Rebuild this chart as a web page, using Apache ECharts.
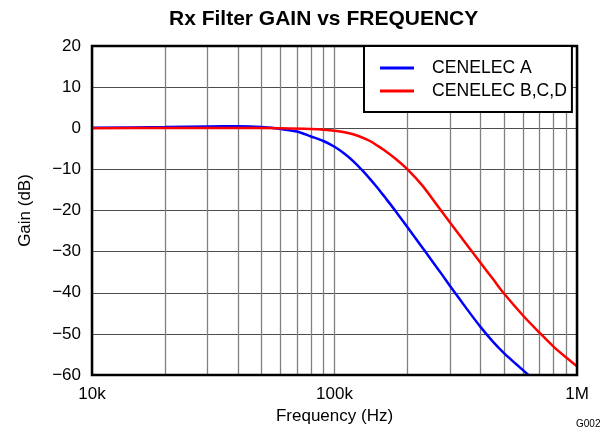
<!DOCTYPE html>
<html>
<head>
<meta charset="utf-8">
<script src="https://cdn.jsdelivr.net/npm/echarts@6/dist/echarts.min.js"></script>
<style>html,body{margin:0;padding:0;background:#fff;}#c{width:609px;height:432px;}</style>
</head>
<body>
<div id="c"></div>
<script>
// ---- data ----
const freqA = [10000, 20000, 30000, 40000, 45000, 50000, 55000, 60000, 70000, 80000, 90000, 100000, 110000, 120000, 130000, 140000, 150000, 160000, 180000, 200000, 225000, 250000, 280000, 300000, 350000, 400000, 450000, 500000, 565000, 630000];
const gainA = [0.1, 0.3, 0.45, 0.5, 0.45, 0.3, 0.1, -0.2, -0.8, -2.0, -3.1, -4.5, -6.2, -8.1, -10.2, -12.3, -14.4, -16.5, -20.4, -24.1, -28.2, -31.9, -35.9, -38.4, -43.8, -48.3, -51.9, -54.7, -57.5, -60];
const freqB = [10000, 20000, 40000, 60000, 80000, 100000, 115000, 127000, 140000, 150000, 160000, 180000, 200000, 230000, 264000, 300000, 350000, 400000, 452000, 500000, 600000, 700000, 800000, 900000, 1000000];
const gainB = [0.0, 0.05, 0.05, 0.0, -0.2, -0.6, -1.2, -2.0, -3.1, -4.2, -5.3, -7.6, -10.0, -13.9, -18.6, -23.0, -28.2, -32.7, -36.8, -40.2, -45.6, -49.7, -53.1, -55.7, -57.9];
const seriesNames = ['CENELEC A', 'CENELEC B,C,D'];
const gridFreqs = [10000, 20000, 30000, 40000, 50000, 60000, 70000, 80000, 90000, 100000, 200000, 300000, 400000, 500000, 600000, 700000, 800000, 900000, 1000000];
const xTickLabels = {10000: '10k', 100000: '100k', 1000000: '1M'};
const xLabelValues = [10000, 100000, 1000000];

const font = 'Liberation Sans, Arial, Helvetica, sans-serif';
const chart = echarts.init(document.getElementById('c'));
const pairs = (xs, ys) => xs.map((x, i) => [x, ys[i]]);

chart.setOption({
  animation: false,
  backgroundColor: '#fff',
  title: {
    text: 'Rx Filter GAIN vs FREQUENCY',
    left: 164, top: 4,
    textStyle: {fontFamily: font, fontSize: 21, fontWeight: 'bold', color: '#000'}
  },
  legend: {
    data: [
      {name: seriesNames[0], icon: 'rect', itemStyle: {color: '#0000ff'}},
      {name: seriesNames[1], icon: 'rect', itemStyle: {color: '#ff0000'}}
    ],
    orient: 'vertical',
    left: 364, top: 46,
    itemWidth: 34, itemHeight: 3, itemGap: 1,
    padding: [11, 5, 10, 16],
    backgroundColor: '#fff',
    borderColor: '#000', borderWidth: 2,
    borderRadius: 0,
    z: 6,
    textStyle: {fontFamily: font, fontSize: 17.6, color: '#000', lineHeight: 22, padding: [0, 0, 0, 13]}
  },
  grid: {
    left: 92, right: 32, top: 46, bottom: 57,
    show: true, z: 5,
    borderColor: '#000', borderWidth: 2.5,
    backgroundColor: 'transparent'
  },
  xAxis: {
    type: 'log', logBase: 10, min: 10000, max: 1000000,
    name: 'Frequency (Hz)', nameLocation: 'middle', nameGap: 32,
    nameTextStyle: {fontFamily: font, fontSize: 17, color: '#000'},
    axisLine: {show: false},
    axisTick: {show: false, customValues: gridFreqs},
    axisLabel: {
      customValues: xLabelValues,
      formatter: v => xTickLabels[Math.round(v)] || '',
      fontFamily: font, fontSize: 17, color: '#000', margin: 11
    },
    splitLine: {show: true, lineStyle: {color: '#808080', width: 1.3}},
    minorTick: {show: false}, minorSplitLine: {show: false}
  },
  yAxis: {
    type: 'value', min: -60, max: 20, interval: 10,
    name: 'Gain (dB)', nameLocation: 'middle', nameGap: 58,
    nameTextStyle: {fontFamily: font, fontSize: 17, color: '#000'},
    axisLine: {show: false},
    axisTick: {show: false},
    axisLabel: {
      formatter: v => String(v).replace('-', '\u2212'),
      fontFamily: font, fontSize: 17, color: '#000', margin: 11
    },
    splitLine: {show: true, lineStyle: {color: '#4d4d4d', width: 1.2}}
  },
  graphic: [{
    type: 'text', left: 576, top: 419,
    style: {text: 'G002', fontFamily: font, fontSize: 10, fill: '#000'}
  }],
  series: [
    {
      name: seriesNames[0], type: 'line', data: pairs(freqA, gainA),
      showSymbol: false, smooth: 0.3, clip: true,
      lineStyle: {color: '#0000ff', width: 2.5}, itemStyle: {color: '#0000ff'}
    },
    {
      name: seriesNames[1], type: 'line', data: pairs(freqB, gainB),
      showSymbol: false, smooth: 0.3, clip: true,
      lineStyle: {color: '#ff0000', width: 2.5}, itemStyle: {color: '#ff0000'}
    }
  ]
});
</script>
</body>
</html>
